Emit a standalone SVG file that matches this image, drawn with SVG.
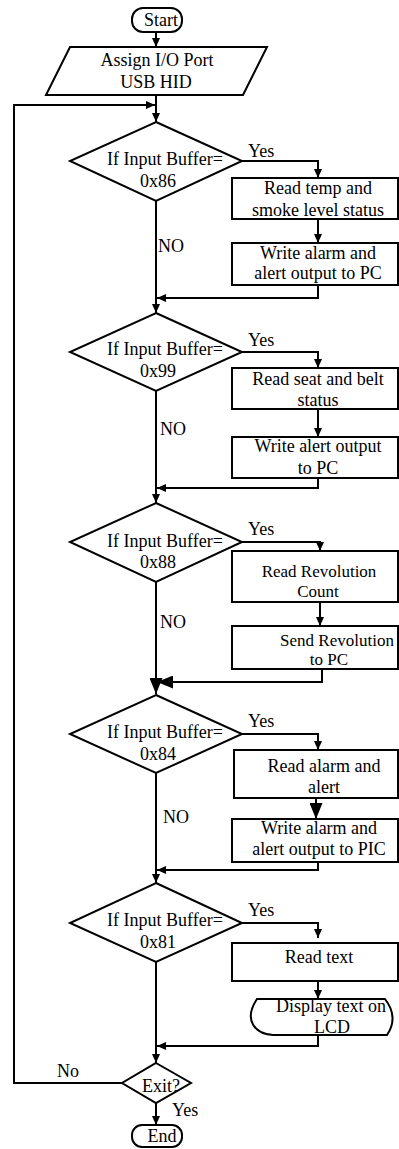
<svg xmlns="http://www.w3.org/2000/svg" width="399" height="1149" viewBox="0 0 399 1149">
<style>
.s{fill:#fff;stroke:#000;stroke-width:2}
.c{fill:none;stroke:#000;stroke-width:2}
text{font-family:"Liberation Serif","Times New Roman",serif;font-size:18px;fill:#000}
.m{text-anchor:middle}
.sm{font-size:17px}
</style>
<defs>
<marker id="a" markerUnits="userSpaceOnUse" markerWidth="9" markerHeight="8" refX="9" refY="4" orient="auto"><path d="M0,0L9,4L0,8z" fill="#000"/></marker>
<marker id="b" markerUnits="userSpaceOnUse" markerWidth="16" markerHeight="13" refX="16" refY="6.5" orient="auto"><path d="M0,0L16,6.5L0,13z" fill="#000"/></marker>
</defs>
<rect width="399" height="1149" fill="#fff"/>
<g id="connectors">
<path class="c" d="M156,32V47" marker-end="url(#a)"/>
<path class="c" d="M156,95V122" marker-end="url(#a)"/>
<path class="c" d="M122,1083H14V105H155" marker-end="url(#a)"/>
<path class="c" d="M242,161H318V178" marker-end="url(#a)"/>
<path class="c" d="M318,219V243" marker-end="url(#a)"/>
<path class="c" d="M318,285V298H157" marker-end="url(#a)"/>
<path class="c" d="M156,201V313" marker-end="url(#a)"/>
<path class="c" d="M242,352H318V368" marker-end="url(#a)"/>
<path class="c" d="M318,409V437" marker-end="url(#a)"/>
<path class="c" d="M318,478V488H157" marker-end="url(#a)"/>
<path class="c" d="M156,391V503" marker-end="url(#a)"/>
<path class="c" d="M242,542H320V551" marker-end="url(#a)"/>
<path class="c" d="M320,602V626" marker-end="url(#a)"/>
<path class="c" d="M322,669V682H157" marker-end="url(#b)"/>
<path class="c" d="M156,582V694" marker-end="url(#b)"/>
<path class="c" d="M242,734H318V750" marker-end="url(#a)"/>
<path class="c" d="M316,798V819" marker-end="url(#b)"/>
<path class="c" d="M318,862V870H157" marker-end="url(#a)"/>
<path class="c" d="M156,773V883" marker-end="url(#a)"/>
<path class="c" d="M242,923H318V938" marker-end="url(#a)"/>
<path class="c" d="M318,981V999" marker-end="url(#a)"/>
<path class="c" d="M318,1035V1046H157" marker-end="url(#a)"/>
<path class="c" d="M156,962V1063" marker-end="url(#a)"/>
<path class="c" d="M156,1103V1125" marker-end="url(#a)"/>
<text x="248" y="157">Yes</text>
<text x="248" y="346">Yes</text>
<text x="248" y="535">Yes</text>
<text x="248" y="727">Yes</text>
<text x="248" y="916">Yes</text>
<text x="158" y="252">NO</text>
<text x="160" y="435">NO</text>
<text x="160" y="628">NO</text>
<text x="163" y="823">NO</text>
<text x="172" y="1116">Yes</text>
<text x="57" y="1077">No</text>
</g>
<g id="start"><rect class="s" x="132" y="8" width="50" height="24" rx="11"/><text class="m" x="161" y="26">Start</text></g>
<g id="assign"><path class="s" d="M70,47H267L243,95H46z"/><text class="m" x="157" y="66">Assign I/O Port</text><text class="m" x="156" y="88">USB HID</text></g>
<g id="d1"><path class="s" d="M156,122L242,161L156,201L70,161z"/><text x="107" y="165">If Input Buffer=</text><text class="m" x="158" y="187">0x86</text></g>
<g id="b1"><rect class="s" x="232" y="178" width="166" height="41"/><text class="m" x="318" y="194">Read temp and</text><text class="m" x="318" y="216">smoke level status</text></g>
<g id="b2"><rect class="s" x="232" y="243" width="166" height="42"/><text class="m" x="318" y="259">Write alarm and</text><text class="m" x="318" y="279">alert output to PC</text></g>
<g id="d2"><path class="s" d="M156,313L242,352L156,391L70,352z"/><text x="107" y="355">If Input Buffer=</text><text class="m" x="158" y="377">0x99</text></g>
<g id="b3"><rect class="s" x="232" y="368" width="166" height="41"/><text class="m" x="318" y="385">Read seat and belt</text><text class="m" x="318" y="406">status</text></g>
<g id="b4"><rect class="s" x="232" y="437" width="166" height="41"/><text class="m" x="318" y="452">Write alert output</text><text class="m" x="318" y="474">to PC</text></g>
<g id="d3"><path class="s" d="M156,503L242,542L156,582L70,542z"/><text x="107" y="547">If Input Buffer=</text><text class="m" x="158" y="568">0x88</text></g>
<g id="b5"><rect class="s" x="232" y="551" width="166" height="51"/><text class="m sm" x="319" y="577">Read Revolution</text><text class="m sm" x="318" y="597">Count</text></g>
<g id="b6"><rect class="s" x="232" y="626" width="166" height="43"/><text class="m sm" x="337" y="646">Send Revolution</text><text class="m sm" x="329" y="665">to PC</text></g>
<g id="d4"><path class="s" d="M156,695L242,734L156,773L70,734z"/><text x="107" y="738">If Input Buffer=</text><text class="m" x="158" y="760">0x84</text></g>
<g id="b7"><rect class="s" x="234" y="750" width="164" height="48"/><text class="m" x="324" y="772">Read alarm and</text><text class="m" x="324" y="793">alert</text></g>
<g id="b8"><rect class="s" x="232" y="819" width="166" height="43"/><text class="m" x="319" y="834">Write alarm and</text><text class="m" x="319" y="855">alert output to PIC</text></g>
<g id="d5"><path class="s" d="M156,883L242,923L156,962L70,923z"/><text x="107" y="926">If Input Buffer=</text><text class="m" x="158" y="948">0x81</text></g>
<g id="b9"><rect class="s" x="232" y="943" width="166" height="38"/><text class="m" x="319" y="963">Read text</text></g>
<g id="b10"><path class="s" d="M257,999H385Q399,1017 387,1035H273C255,1034 243,1020 257,999z"/><text class="m" x="331" y="1012">Display text on</text><text class="m" x="332" y="1033">LCD</text></g>
<g id="exit"><path class="s" d="M156,1063L191,1083L156,1103L122,1083z"/><text x="142" y="1092">Exit?</text></g>
<g id="end"><rect class="s" x="132" y="1125" width="50" height="22" rx="10"/><text class="m" x="162" y="1142">End</text></g>
</svg>
